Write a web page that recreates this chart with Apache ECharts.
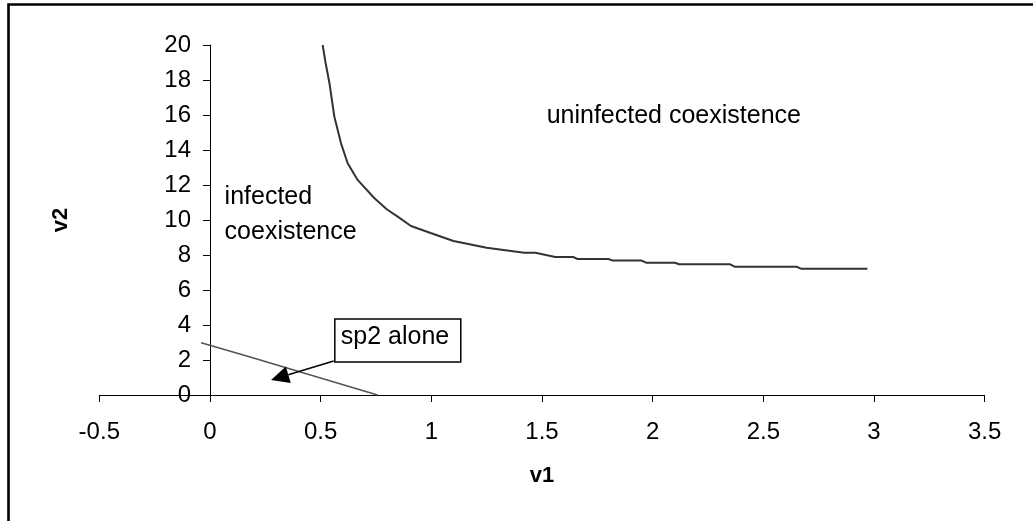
<!DOCTYPE html>
<html>
<head>
<meta charset="utf-8">
<script src="https://cdn.jsdelivr.net/npm/echarts@6/dist/echarts.min.js"></script>
<style>
html,body{margin:0;padding:0;background:#fff;}
#chart{width:1033px;height:521px;}
</style>
</head>
<body>
<div id="chart"></div>
<script>
// Boundary curve between infected and uninfected coexistence
const upperV1 = [0.509, 0.522, 0.54, 0.562, 0.592, 0.622, 0.667, 0.743, 0.80, 0.848, 0.908, 1.0, 1.1, 1.25, 1.42, 1.47, 1.56, 1.64, 1.66, 1.80, 1.82, 1.95, 1.97, 2.10, 2.12, 2.35, 2.37, 2.65, 2.67, 2.97];
const upperV2 = [20, 19, 17.8, 15.9, 14.38, 13.24, 12.29, 11.24, 10.6, 10.19, 9.66, 9.24, 8.8, 8.42, 8.13, 8.13, 7.89, 7.89, 7.77, 7.77, 7.68, 7.68, 7.56, 7.56, 7.47, 7.47, 7.33, 7.33, 7.22, 7.22];
// sp2 alone boundary
const lowerV1 = [-0.04, 0.17, 0.757];
const lowerV2 = [2.99, 2.22, 0];
// axes
const xMin = -0.5, xMax = 3.5, xStep = 0.5;
const yMin = 0, yMax = 20, yStep = 2;
// annotations (data coordinates)
const labelUninfected = {text: 'uninfected coexistence', v1: 1.521, v2: 15.94};
const labelInfected1 = {text: 'infected', v1: 0.066, v2: 11.33};
const labelInfected2 = {text: 'coexistence', v1: 0.066, v2: 9.33};
const calloutText = 'sp2 alone';
const calloutBox = {v1a: 0.564, v2a: 4.34, v1b: 1.133, v2b: 1.89};
const arrowFrom = {v1: 0.559, v2: 1.94};
const arrowTip = {v1: 0.276, v2: 0.86};

const zip = (a, b) => a.map((v, i) => [v, b[i]]);
const FONT = 'Liberation Sans, Arial, sans-serif';
const W = 1033, GL = 99.3, GR = 48.3;
// y axis crosses the x axis at v1 = 0
const yAxisOffset = -(W - GL - GR) * (0 - xMin) / (xMax - xMin);

const chart = echarts.init(document.getElementById('chart'), null, {renderer: 'canvas'});
chart.setOption({
  animation: false,
  backgroundColor: '#fff',
  grid: {left: GL, right: GR, top: 45, bottom: 126, containLabel: false, outerBoundsMode: 'none'},
  xAxis: {
    type: 'value', min: xMin, max: xMax, interval: xStep,
    name: 'v1', nameLocation: 'middle', nameGap: 70,
    nameTextStyle: {fontFamily: FONT, fontWeight: 'bold', fontSize: 22, color: '#000'},
    axisLine: {show: true, onZero: false, lineStyle: {color: '#000', width: 1}},
    axisTick: {show: true, length: 7, inside: false, lineStyle: {color: '#000'}},
    axisLabel: {fontFamily: FONT, fontSize: 24, color: '#000', margin: 25},
    splitLine: {show: false}
  },
  yAxis: {
    type: 'value', min: yMin, max: yMax, interval: yStep,
    offset: yAxisOffset,
    name: 'v2', nameLocation: 'middle', nameGap: 138, nameRotate: 90,
    nameTextStyle: {fontFamily: FONT, fontWeight: 'bold', fontSize: 22, color: '#000'},
    axisLine: {show: true, onZero: false, lineStyle: {color: '#000', width: 1}},
    axisTick: {show: true, length: 7, inside: false, lineStyle: {color: '#000'}},
    axisLabel: {fontFamily: FONT, fontSize: 24, color: '#000', margin: 19},
    splitLine: {show: false}
  },
  series: [
    {type: 'line', data: zip(upperV1, upperV2), showSymbol: false, symbol: 'none',
     lineStyle: {color: '#333', width: 2}, z: 3},
    {type: 'line', data: zip(lowerV1, lowerV2), showSymbol: false, symbol: 'none',
     lineStyle: {color: '#555', width: 1.6}, z: 3}
  ]
});

const px = (a, b) => chart.convertToPixel({gridIndex: 0}, [a, b]);
const pU = px(labelUninfected.v1, labelUninfected.v2);
const pI1 = px(labelInfected1.v1, labelInfected1.v2);
const pI2 = px(labelInfected2.v1, labelInfected2.v2);
const bA = px(calloutBox.v1a, calloutBox.v2a);
const bB = px(calloutBox.v1b, calloutBox.v2b);
const aF = px(arrowFrom.v1, arrowFrom.v2);
const aT = px(arrowTip.v1, arrowTip.v2);
// arrowhead triangle
const dx = aT[0] - aF[0], dy = aT[1] - aF[1];
const len = Math.sqrt(dx * dx + dy * dy);
const ux = dx / len, uy = dy / len;
const headL = 18, headW = 8.5;
const baseC = [aT[0] - ux * headL, aT[1] - uy * headL];
const h1 = [baseC[0] - uy * headW, baseC[1] + ux * headW];
const h2 = [baseC[0] + uy * headW, baseC[1] - ux * headW];

const txt = (p, s) => ({type: 'text', x: p[0], y: p[1], z: 10,
  style: {text: s, fontFamily: FONT, fontSize: 25, fill: '#000', textAlign: 'left', textVerticalAlign: 'middle'}});

chart.setOption({
  graphic: [
    {type: 'rect', shape: {x: 8.5, y: 4.5, width: 1100, height: 600}, z: 0,
     style: {fill: 'none', stroke: '#000', lineWidth: 2.6}},
    txt(pU, labelUninfected.text),
    txt(pI1, labelInfected1.text),
    txt(pI2, labelInfected2.text),
    {type: 'line', shape: {x1: aF[0], y1: aF[1], x2: baseC[0], y2: baseC[1]}, z: 10,
     style: {stroke: '#000', lineWidth: 1.5}},
    {type: 'polygon', shape: {points: [aT, h1, h2]}, z: 10, style: {fill: '#000'}},
    {type: 'rect', shape: {x: bA[0], y: bA[1], width: bB[0] - bA[0], height: bB[1] - bA[1]}, z: 11,
     style: {fill: '#fff', stroke: '#000', lineWidth: 1.5}},
    {type: 'text', x: bA[0] + 6, y: bA[1] + 18, z: 12,
     style: {text: calloutText, fontFamily: FONT, fontSize: 25, fill: '#000', textAlign: 'left', textVerticalAlign: 'middle'}}
  ]
});
</script>
</body>
</html>
